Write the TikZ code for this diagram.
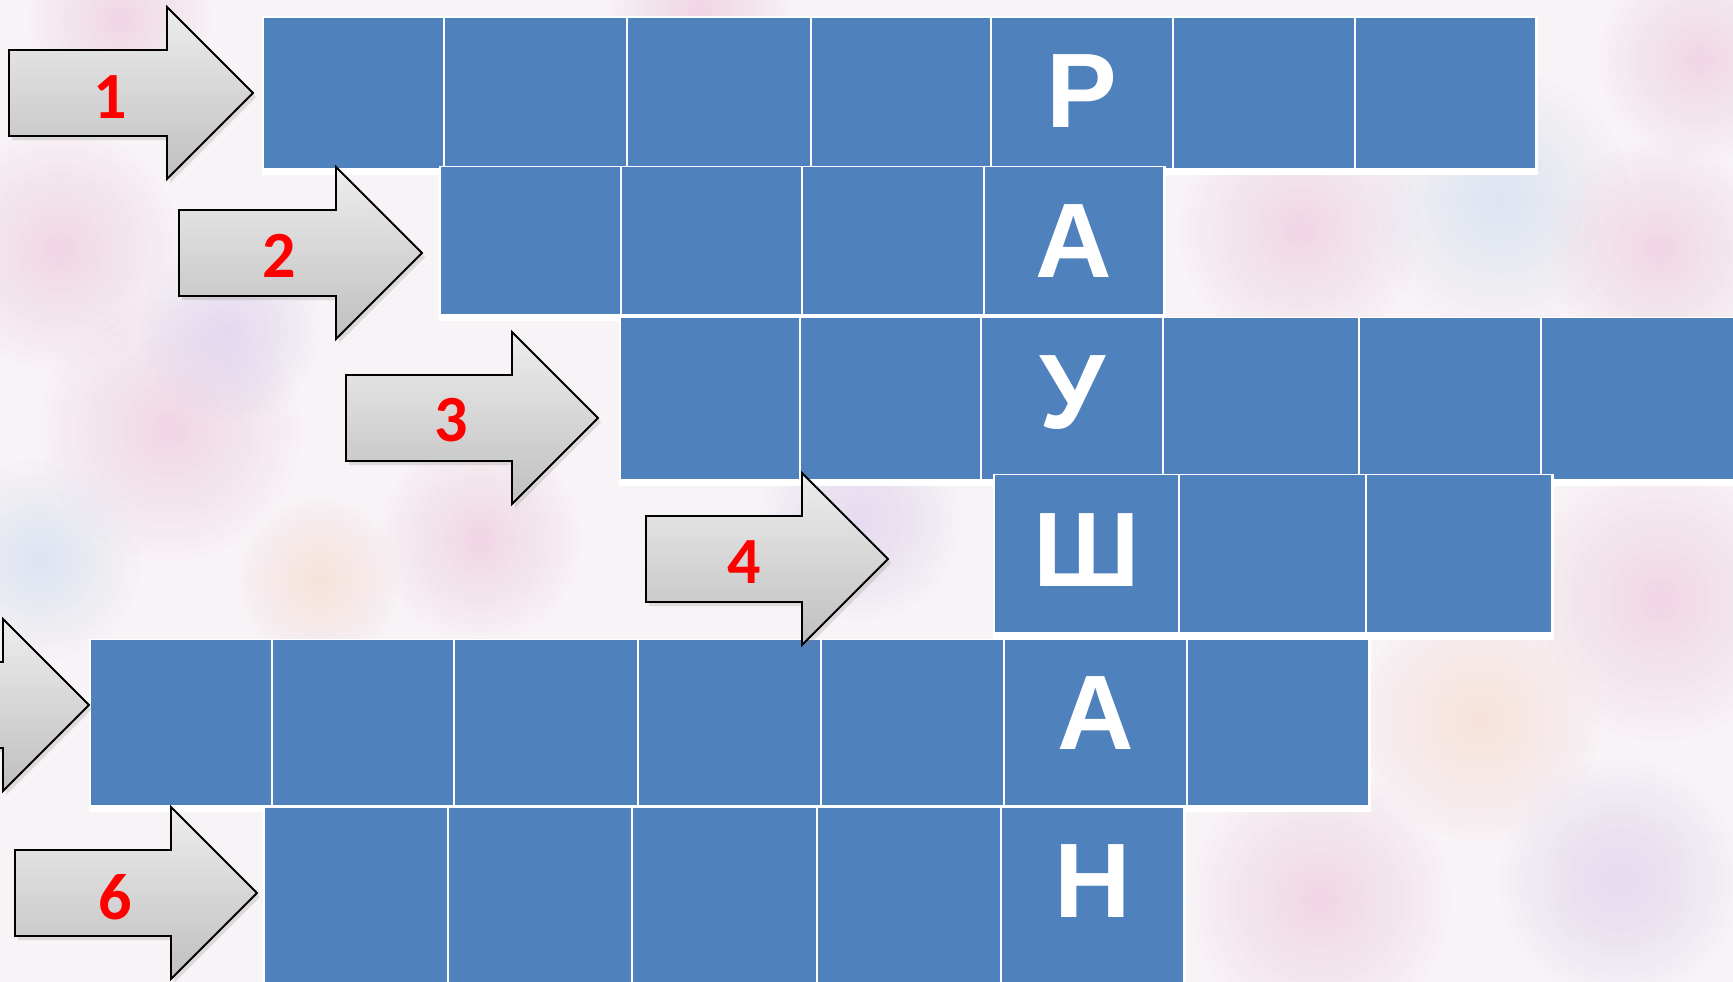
\documentclass[tikz,border=0pt]{standalone}
\usepackage{fontspec}
\newfontfamily\letterfont{Liberation Sans}
\newfontfamily\numfont{Carlito}
\usetikzlibrary{shadows}
\definecolor{cellblue}{HTML}{4F81BD}
\definecolor{bgcol}{HTML}{F8F3F7}
\definecolor{blobpink}{HTML}{F2B8D4}
\definecolor{blobblue}{HTML}{C6D6F2}
\definecolor{bloblav}{HTML}{D2C6F0}
\definecolor{blobpeach}{HTML}{F6D2BE}
\newcommand\softblob[4]{\foreach \k in {1,...,14}{\fill[#4, opacity=0.035] (#1,#2) circle ({#3*\k/14});}}
\newcommand\crossarrow[3]{%
  \path[arrowbody] (#1,#3-43) -- (#2-86,#3-43) -- (#2-86,#3-86) -- (#2,#3)
    -- (#2-86,#3+86) -- (#2-86,#3+43) -- (#1,#3+43) -- cycle;}
\tikzset{
  cell/.style={fill=cellblue, draw=none, inner sep=0pt, outer sep=0pt},
  rowback/.style={fill=white},
  letter/.style={text=white, inner sep=0pt, anchor=base,
    font=\letterfont\bfseries\fontsize{106}{110}\selectfont},
  numlabel/.style={text=red, inner sep=0pt,
    font=\numfont\bfseries\fontsize{66}{68}\selectfont},
  arrowbody/.style={draw=black, line width=1.8pt, line join=miter,
    top color=gray!14, bottom color=gray!50,
    drop shadow={shadow xshift=3pt, shadow yshift=-4pt, opacity=0.22}},
}
\begin{document}
\begin{tikzpicture}[x=1pt, y=-1pt]
\useasboundingbox (0,0) rectangle (1733,982);
\clip (0,0) rectangle (1733,982);
\fill[bgcol] (0,0) rectangle (1733,982);
% background texture
\softblob{60}{250}{120}{blobpink}
\softblob{170}{430}{130}{blobpink}
\softblob{40}{560}{100}{blobblue}
\softblob{230}{330}{90}{bloblav}
\softblob{480}{540}{100}{blobpink}
\softblob{320}{580}{80}{blobpeach}
\softblob{860}{520}{100}{bloblav}
\softblob{1300}{230}{120}{blobpink}
\softblob{1500}{200}{130}{blobblue}
\softblob{1660}{250}{110}{blobpink}
\softblob{1660}{600}{140}{blobpink}
\softblob{1480}{720}{120}{blobpeach}
\softblob{1320}{900}{130}{blobpink}
\softblob{1620}{880}{120}{bloblav}
\softblob{1700}{60}{100}{blobpink}
\softblob{120}{20}{90}{blobpink}
\softblob{700}{10}{90}{blobpink}
% row 1
\fill[rowback] (261.5,16.5) rectangle (1537.5,175);
\foreach \a/\b [count=\i] in {263/444,444/627,627/811,811/991,991/1173,1173/1355,1355/1536}
  \node[cell, minimum width={(\b-\a-2.4)*1pt}, minimum height=150pt] (r1c\i) at ({(\a+\b)/2},93) {};
% row 2
\fill[rowback] (438.5,165.5) rectangle (1165.5,321);
\foreach \a/\b [count=\i] in {440/621,621/802,802/984,984/1164}
  \node[cell, minimum width={(\b-\a-2.4)*1pt}, minimum height=147pt] (r2c\i) at ({(\a+\b)/2},240.5) {};
% row 3
\fill[rowback] (618.5,316.5) rectangle (1760,486);
\foreach \a/\b [count=\i] in {620/800,800/981,981/1163,1163/1359,1359/1541,1541/1770}
  \node[cell, minimum width={(\b-\a-2.4)*1pt}, minimum height=161pt] (r3c\i) at ({(\a+\b)/2},398.5) {};
% row 4
\fill[rowback] (992.5,473.5) rectangle (1553.5,640);
\foreach \a/\b [count=\i] in {994/1179,1179/1366,1366/1552}
  \node[cell, minimum width={(\b-\a-2.4)*1pt}, minimum height=157pt] (r4c\i) at ({(\a+\b)/2},553.5) {};
% row 5
\fill[rowback] (88.5,638.5) rectangle (1370.5,812);
\foreach \a/\b [count=\i] in {90/272,272/454,454/638,638/821,821/1004,1004/1187,1187/1369}
  \node[cell, minimum width={(\b-\a-2.4)*1pt}, minimum height=165pt] (r5c\i) at ({(\a+\b)/2},722.5) {};
% row 6
\fill[rowback] (262.5,806.5) rectangle (1185.5,1000);
\foreach \a/\b [count=\i] in {264/448,448/632,632/817,817/1001,1001/1184}
  \node[cell, minimum width={(\b-\a-2.4)*1pt}, minimum height=190pt] (r6c\i) at ({(\a+\b)/2},903) {};
% letters
\node[letter] (L1) at (r1c5.center |- 0,128) {Р};
\node[letter] (L2) at (r2c4.center |- 0,277) {А};
\node[letter] (L3) at (r3c3.center |- 0,428) {У};
\node[letter] (L4) at (r4c1.center |- 0,586) {Ш};
\node[letter] (L5) at (r5c6.center |- 0,749) {А};
\node[letter] (L6) at (r6c5.center |- 0,917) {Н};
% arrows
\crossarrow{9}{253}{93}
\crossarrow{179}{422}{253}
\crossarrow{346}{598}{418}
\crossarrow{646}{888}{559}
\crossarrow{-160}{89}{705}
\crossarrow{15}{257}{893}
\node[numlabel] (n1) at (110,97) {1};
\node[numlabel] (n2) at (279,256) {2};
\node[numlabel] (n3) at (451,420) {3};
\node[numlabel] (n4) at (744,562) {4};
\node[numlabel] (n6) at (115,897) {6};
\end{tikzpicture}
\end{document}
